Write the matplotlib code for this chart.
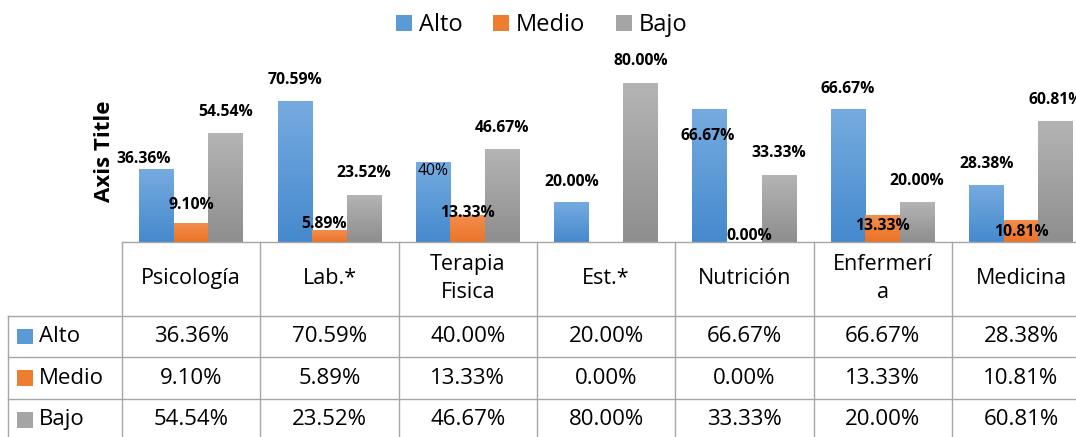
import matplotlib
matplotlib.use("Agg")
import matplotlib.pyplot as plt
import numpy as np
from matplotlib.colors import LinearSegmentedColormap
from matplotlib.patches import Rectangle

# ---------------- data ----------------
categories = ["Psicología", "Lab.*", "Terapia\nFisica", "Est.*", "Nutrición", "Enfermerí\na", "Medicina"]
series_names = ["Alto", "Medio", "Bajo"]
alto = [36.36, 70.59, 40.00, 20.00, 66.67, 66.67, 28.38]
medio = [9.10, 5.89, 13.33, 0.00, 0.00, 13.33, 10.81]
bajo = [54.54, 23.52, 46.67, 80.00, 33.33, 20.00, 60.81]
series_values = [alto, medio, bajo]

# data-label exceptions as they appear on the chart
label_override = {(0, 2): "40%"}      # (series, category) -> text
label_hidden = {(1, 3)}               # not shown
label_regular = {(0, 2)}              # not bold

# ---------------- style ----------------
plt.rcParams["font.family"] = ["Open Sans", "DejaVu Sans"]
W, H, DPI = 1076, 437, 100
top_cols = ["#76ABE0", "#F28E4E", "#B4B4B4"]
bot_cols = ["#4589CD", "#EB7326", "#8E8E8E"]
mid_cols = ["#5B9BD5", "#ED7D31", "#A5A5A5"]
line_col = "#A6A6A6"

# label offsets in pixels (dx, dy from bar top)
label_dx = [[-12.5, 0, 0, 0, -2, 0, 0],
            [0, -5, 0, 0, 5, 0, 0],
            [0, 0, 0, 0, 0, 0, 0]]
label_dy = [[10.7, 21, -8.3, 20.3, -27, 20.7, 21],
            [18.3, 6, 2.7, 0, 5.7, -11, -11.7],
            [21, 21.7, 21.3, 22, 22, 21, 21]]

# layout in pixels
plot_left, cat_w, base_y, top_y = 122.0, 138.3, 241.7, 43.0
n = len(categories)
plot_right = plot_left + cat_w * n

fig = plt.figure(figsize=(W / DPI, H / DPI), dpi=DPI)
ax = fig.add_axes([plot_left / W, 1 - base_y / H, (plot_right - plot_left) / W, (base_y - top_y) / H])

x = np.arange(n)
bw = 0.25
offsets = [-bw, 0, bw]
for s, vals in enumerate(series_values):
    bars = ax.bar(x + offsets[s], vals, width=bw, color=mid_cols[s], linewidth=0, zorder=2)
    cmap = LinearSegmentedColormap.from_list("g%d" % s, [bot_cols[s], top_cols[s]])
    grad = np.linspace(0, 1, 256).reshape(-1, 1)
    for i, p in enumerate(bars.patches):
        h = p.get_height()
        if h > 0:
            ax.imshow(grad, extent=(p.get_x(), p.get_x() + p.get_width(), 0, h), origin="lower",
                      aspect="auto", cmap=cmap, zorder=2.5, interpolation="bilinear")
        if (s, i) in label_hidden:
            continue
        txt = label_override.get((s, i), "%.2f%%" % vals[i])
        weight = "normal" if (s, i) in label_regular else "bold"
        ax.annotate(txt, (p.get_x() + p.get_width() / 2, h), xytext=(label_dx[s][i], label_dy[s][i]),
                    textcoords="offset pixels", ha="center", va="center", fontsize=11.3,
                    fontweight=weight, color="black", zorder=5, annotation_clip=False)

ax.set_xlim(-0.5, n - 0.5)
ax.set_ylim(0, 100)
ax.set_axis_off()
ax.text((104 - plot_left) / (plot_right - plot_left), (base_y - 151.5) / (base_y - top_y), "Axis Title",
        transform=ax.transAxes, rotation=90, ha="center", va="center", fontsize=16, fontweight="bold")

# legend
handles = [Rectangle((0, 0), 1, 1, facecolor=c, edgecolor="none") for c in mid_cols]
fig.legend(handles, series_names, loc="center", bbox_to_anchor=(541.5 / W, 1 - 25 / H), ncol=3,
           frameon=False, fontsize=17, handlelength=0.68, handleheight=0.68, handletextpad=0.28,
           columnspacing=1.3, borderpad=0, borderaxespad=0)

# ---------------- data table ----------------
row_left = 8.3
header_h, row_h = 74.0, 41.65
x_left = -0.5 - (plot_left - row_left) / cat_w
tab = fig.add_axes([row_left / W, 0, (plot_right - row_left) / W, (H - base_y) / H])
tab.set_xlim(x_left, n - 0.5)
tab.set_ylim(H - base_y, 0)
tab.set_axis_off()
table_bottom = header_h + 3 * row_h
lw = 1.0
tab.plot([-0.5, n - 0.5], [0, 0], color=line_col, lw=lw, clip_on=False)
for r in range(4):
    yy = header_h + r * row_h
    tab.plot([x_left, n - 0.5], [yy, yy], color=line_col, lw=lw, clip_on=False)
for k in range(n + 1):
    tab.plot([k - 0.5, k - 0.5], [0, table_bottom], color=line_col, lw=lw, clip_on=False)
tab.plot([x_left, x_left], [header_h, table_bottom], color=line_col, lw=lw, clip_on=False)

for i, c in enumerate(categories):
    tab.text(i, header_h / 2, c, ha="center", va="center", fontsize=15.5, linespacing=1.42)
for s, (name, vals) in enumerate(zip(series_names, series_values)):
    yc = header_h + row_h * (s + 0.5)
    tab.add_patch(Rectangle((x_left + 9 / cat_w, yc - 7.7), 15.4 / cat_w, 15.4,
                            facecolor=mid_cols[s], edgecolor="none"))
    tab.text(x_left + 31 / cat_w, yc, name, ha="left", va="center", fontsize=16)
    for i, v in enumerate(vals):
        tab.text(i, yc, "%.2f%%" % v, ha="center", va="center", fontsize=16)

fig.savefig("out.png", dpi=DPI)
